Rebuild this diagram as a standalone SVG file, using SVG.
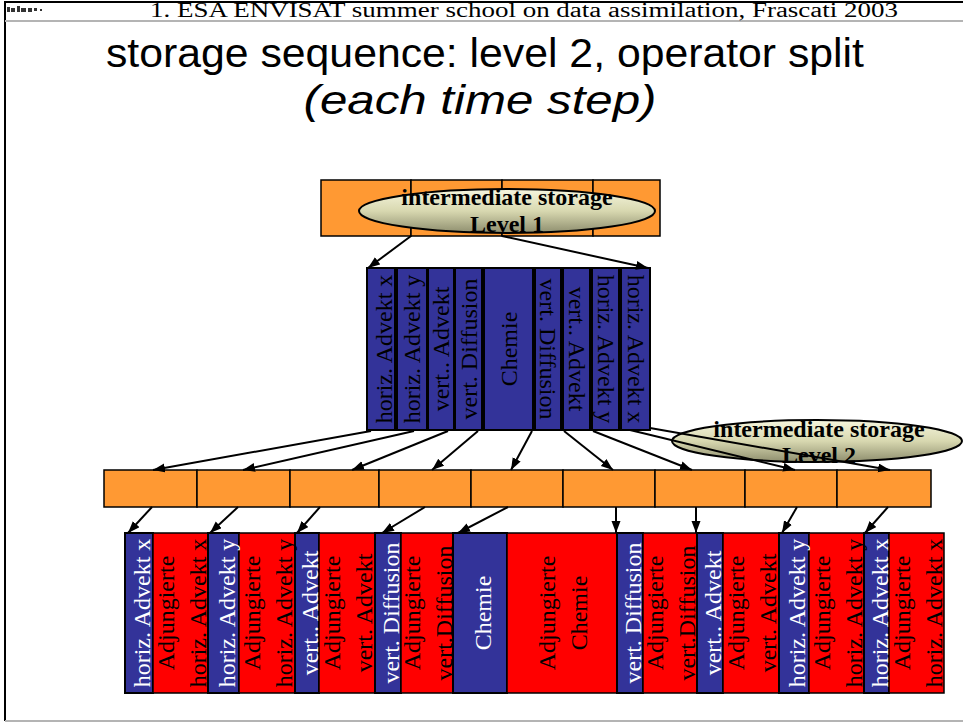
<svg xmlns="http://www.w3.org/2000/svg" width="963" height="724" viewBox="0 0 963 724">
<defs>
<marker id="ah" markerUnits="userSpaceOnUse" markerWidth="12" markerHeight="10" refX="12" refY="4.5" orient="auto"><path d="M0,0 L12,4.5 L0,9 z" fill="#000"/></marker>
<linearGradient id="eg" x1="0" y1="0" x2="0" y2="1"><stop offset="0" stop-color="#f6f6de"/><stop offset="0.5" stop-color="#d8d8b0"/><stop offset="1" stop-color="#8e8e6e"/></linearGradient>
<style>
.frame{stroke:#000;stroke-width:2;fill:none}
.gray{stroke:#b4b4b4;stroke-width:2;fill:none}
.org{fill:#ff9933;stroke:#000;stroke-width:1.5}
.blu{fill:#333399;stroke:#000;stroke-width:2}
.red{fill:#ff0000;stroke:#000;stroke-width:1.5}
.ell{fill:url(#eg);stroke:#000;stroke-width:2}
.t{font-family:"Liberation Serif","Times New Roman",serif;font-size:24px;text-anchor:middle}
.tb{fill:#000}
.tw{fill:#fff}
.et{font-family:"Liberation Serif","Times New Roman",serif;font-size:24px;font-weight:bold;text-anchor:middle;fill:#000}
.conn line{stroke:#000;stroke-width:2;marker-end:url(#ah)}
</style>
</defs>
<g id="frame">
<line class="frame" x1="4" y1="2" x2="963" y2="2"/>
<line class="frame" x1="5" y1="2" x2="5" y2="721"/>
<line class="gray" x1="5" y1="21" x2="963" y2="21"/>
<line class="gray" x1="5" y1="721" x2="963" y2="721"/>
<g fill="#333"><rect x="7" y="7" width="3" height="5"/><rect x="11" y="8" width="4" height="4"/><rect x="17" y="6" width="3" height="6"/><rect x="21" y="8" width="5" height="4"/><rect x="28" y="8" width="4" height="4"/><rect x="34" y="8" width="3" height="3"/><rect x="40" y="9" width="2" height="2"/></g>
<text x="524" y="17" font-family="Liberation Serif, Times New Roman, serif" font-size="20" text-anchor="middle" textLength="748" lengthAdjust="spacingAndGlyphs">1. ESA ENVISAT summer school on data assimilation, Frascati 2003</text>
</g>
<g id="title">
<text x="485" y="67" font-family="Liberation Sans, Arial, sans-serif" font-size="41" text-anchor="middle" textLength="758" lengthAdjust="spacingAndGlyphs">storage sequence: level 2, operator split</text>
<text x="480" y="114" font-family="Liberation Sans, Arial, sans-serif" font-size="41" font-style="italic" text-anchor="middle" textLength="353" lengthAdjust="spacingAndGlyphs">(each time step)</text>
</g>
<g id="storage1">
<rect class="org" x="321" y="180" width="90" height="56"/>
<rect class="org" x="411" y="180" width="91" height="56"/>
<rect class="org" x="502" y="180" width="91" height="56"/>
<rect class="org" x="593" y="180" width="67" height="56"/>
<ellipse class="ell" cx="507" cy="211" rx="148" ry="22"/>
<text class="et" x="507" y="205">intermediate storage</text>
<text class="et" x="507" y="232">Level 1</text>
</g>
<g id="forward">
<rect class="blu" x="367" y="268" width="28" height="162"/>
<rect class="blu" x="397" y="268" width="30" height="162"/>
<rect class="blu" x="428" y="268" width="26" height="162"/>
<rect class="blu" x="455" y="268" width="27" height="162"/>
<rect class="blu" x="484" y="268" width="49" height="162"/>
<rect class="blu" x="535" y="268" width="26" height="162"/>
<rect class="blu" x="563" y="268" width="27" height="162"/>
<rect class="blu" x="592" y="268" width="27" height="162"/>
<rect class="blu" x="621" y="268" width="29" height="162"/>
<g class="t tb">
<text transform="translate(381,349) rotate(-90)" y="11">horiz. Advekt x</text>
<text transform="translate(412,349) rotate(-90)" y="8">horiz. Advekt y</text>
<text transform="translate(441,349) rotate(-90)" y="8">vert.. Advekt</text>
<text transform="translate(468.5,349) rotate(-90)" y="8">vert. Diffusion</text>
<text transform="translate(508.5,349) rotate(-90)" y="8">Chemie</text>
<text transform="translate(548,349) rotate(90)" y="8">vert. Diffusion</text>
<text transform="translate(576.5,349) rotate(90)" y="8">vert.. Advekt</text>
<text transform="translate(605.5,349) rotate(90)" y="8">horiz. Advekt y</text>
<text transform="translate(635.5,349) rotate(90)" y="8">horiz. Advekt x</text>
</g>
</g>
<g id="storage2">
<rect class="org" x="104" y="470" width="93" height="37"/>
<rect class="org" x="197" y="470" width="93" height="37"/>
<rect class="org" x="290" y="470" width="89" height="37"/>
<rect class="org" x="379" y="470" width="92" height="37"/>
<rect class="org" x="471" y="470" width="92" height="37"/>
<rect class="org" x="563" y="470" width="92" height="37"/>
<rect class="org" x="655" y="470" width="90" height="37"/>
<rect class="org" x="745" y="470" width="92" height="37"/>
<rect class="org" x="837" y="470" width="94" height="37"/>
</g>
<g id="label2">
<ellipse class="ell" cx="817" cy="441" rx="145" ry="21"/>
<text class="et" x="819" y="437">intermediate storage</text>
<text class="et" x="819" y="463">Level 2</text>
</g>
<g id="adjoint">
<rect class="blu" x="125" y="533" width="28" height="160"/>
<rect class="red" x="153" y="533" width="55" height="160"/>
<rect class="blu" x="208" y="533" width="31" height="160"/>
<rect class="red" x="239" y="533" width="56" height="160"/>
<rect class="blu" x="295" y="533" width="24" height="160"/>
<rect class="red" x="319" y="533" width="56" height="160"/>
<rect class="blu" x="375" y="533" width="26" height="160"/>
<rect class="red" x="401" y="533" width="52" height="160"/>
<rect class="blu" x="453" y="533" width="54" height="160"/>
<rect class="red" x="507" y="533" width="110" height="160"/>
<rect class="blu" x="617" y="533" width="26" height="160"/>
<rect class="red" x="643" y="533" width="54" height="160"/>
<rect class="blu" x="697" y="533" width="26" height="160"/>
<rect class="red" x="723" y="533" width="56" height="160"/>
<rect class="blu" x="779" y="533" width="30" height="160"/>
<rect class="red" x="809" y="533" width="55" height="160"/>
<rect class="blu" x="864" y="533" width="25" height="160"/>
<rect class="red" x="889" y="533" width="55" height="160"/>
<g class="t tw">
<text transform="translate(139,613) rotate(-90)" y="11">horiz. Advekt x</text>
<text transform="translate(223.5,613) rotate(-90)" y="11">horiz. Advekt y</text>
<text transform="translate(307,613) rotate(-90)" y="11">vert.. Advekt</text>
<text transform="translate(388,613) rotate(-90)" y="11">vert. Diffusion</text>
<text transform="translate(480,613) rotate(-90)" y="11">Chemie</text>
<text transform="translate(630,613) rotate(-90)" y="11">vert. Diffusion</text>
<text transform="translate(710,613) rotate(-90)" y="11">vert.. Advekt</text>
<text transform="translate(794,613) rotate(-90)" y="11">horiz. Advekt y</text>
<text transform="translate(876.5,613) rotate(-90)" y="11">horiz. Advekt x</text>
</g>
<g class="t tb">
<text transform="translate(180.5,613) rotate(-90)"><tspan x="0" y="-7">Adjungierte</tspan><tspan x="0" y="25">horiz. Advekt x</tspan></text>
<text transform="translate(267,613) rotate(-90)"><tspan x="0" y="-7">Adjungierte</tspan><tspan x="0" y="25">horiz. Advekt y</tspan></text>
<text transform="translate(347,613) rotate(-90)"><tspan x="0" y="-7">Adjungierte</tspan><tspan x="0" y="25">vert. Advekt</tspan></text>
<text transform="translate(427,613) rotate(-90)"><tspan x="0" y="-7">Adjungierte</tspan><tspan x="0" y="25">vert.Diffusion</tspan></text>
<text transform="translate(562,613) rotate(-90)"><tspan x="0" y="-7">Adjungierte</tspan><tspan x="0" y="25">Chemie</tspan></text>
<text transform="translate(670,613) rotate(-90)"><tspan x="0" y="-7">Adjungierte</tspan><tspan x="0" y="25">vert.Diffusion</tspan></text>
<text transform="translate(751,613) rotate(-90)"><tspan x="0" y="-7">Adjungierte</tspan><tspan x="0" y="25">vert. Advekt</tspan></text>
<text transform="translate(836.5,613) rotate(-90)"><tspan x="0" y="-7">Adjungierte</tspan><tspan x="0" y="25">horiz. Advekt y</tspan></text>
<text transform="translate(916.5,613) rotate(-90)"><tspan x="0" y="-7">Adjungierte</tspan><tspan x="0" y="25">horiz. Advekt x</tspan></text>
</g>
</g>
<g id="connectors" class="conn">
<line x1="411" y1="236" x2="368" y2="268"/>
<line x1="502" y1="236" x2="648" y2="268"/>
<line x1="371" y1="431" x2="153" y2="470"/>
<line x1="414" y1="431" x2="243" y2="470"/>
<line x1="448" y1="431" x2="352" y2="470"/>
<line x1="478" y1="431" x2="432" y2="470"/>
<line x1="532" y1="431" x2="511" y2="470"/>
<line x1="564" y1="431" x2="613" y2="470"/>
<line x1="593" y1="431" x2="692" y2="470"/>
<line x1="630" y1="430" x2="795" y2="470"/>
<line x1="650" y1="428" x2="890" y2="470"/>
<line x1="152" y1="507" x2="128" y2="533"/>
<line x1="238" y1="507" x2="210" y2="533"/>
<line x1="320" y1="507" x2="297" y2="533"/>
<line x1="425" y1="507" x2="382" y2="533"/>
<line x1="508" y1="507" x2="458" y2="533"/>
<line x1="616" y1="507" x2="616" y2="533"/>
<line x1="696" y1="507" x2="696" y2="533"/>
<line x1="797" y1="507" x2="782" y2="533"/>
<line x1="888" y1="507" x2="865" y2="533"/>
</g>
</svg>
